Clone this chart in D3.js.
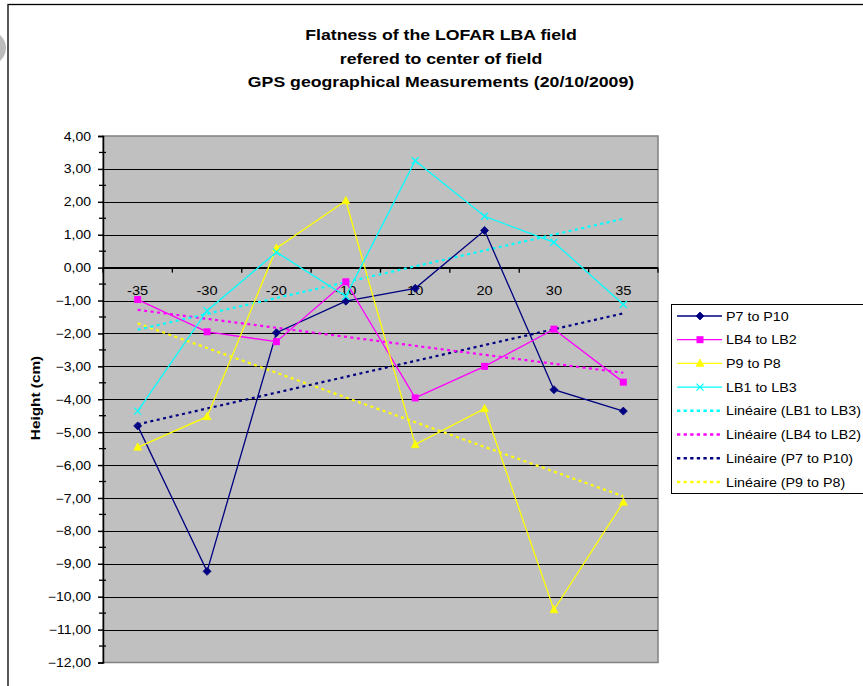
<!DOCTYPE html>
<html>
<head>
<meta charset="utf-8">
<script src="https://cdn.jsdelivr.net/npm/d3@7"></script>
<style>
  html, body { margin: 0; padding: 0; background: #fff; }
  svg { display: block; }
  text { font-family: "Liberation Sans", Arial, sans-serif; }
</style>
</head>
<body>
<script>
// Measurement positions along the field (category axis)
const categories = ["-35", "-30", "-20", "-10", "10", "20", "30", "35"];

// Height relative to field centre, in cm
const p7ToP10  = [-4.81, -9.23, -1.98, -1.02, -0.63, 1.13, -3.71, -4.36];
const lb4ToLb2 = [-0.97, -1.95, -2.25, -0.43, -3.96, -3.00, -1.87, -3.48];
const p9ToP8   = [-5.46, -4.53, 0.59, 2.03, -5.38, -4.29, -10.40, -7.13];
const lb1ToLb3 = [-4.36, -1.31, 0.47, -0.87, 3.25, 1.56, 0.77, -1.12];

const yTicks = d3.range(-12, 5, 1);
const titleLines = [
  "Flatness of the LOFAR LBA field",
  "refered to center of field",
  "GPS geographical Measurements (20/10/2009)"
];

const series = [
  { name: "P7 to P10",  values: p7ToP10,  color: "#000080", marker: "diamond" },
  { name: "LB4 to LB2", values: lb4ToLb2, color: "#FF00FF", marker: "square" },
  { name: "P9 to P8",   values: p9ToP8,   color: "#FFFF00", marker: "triangle" },
  { name: "LB1 to LB3", values: lb1ToLb3, color: "#00FFFF", marker: "cross" }
];
// Linear trend entries, in legend order
const trendOrder = ["LB1 to LB3", "LB4 to LB2", "P7 to P10", "P9 to P8"];

const W = 863, H = 686;
const plot = { left: 103, right: 658, top: 136, bottom: 662.5 };
const SX = 1.17; // horizontal stretch of the chart's lettering

const svg = d3.select("body").append("svg").attr("width", W).attr("height", H);
svg.append("rect").attr("width", W).attr("height", H).attr("fill", "#fff");

// small grey disc peeking at the left edge
svg.append("circle").attr("cx", -11).attr("cy", 48).attr("r", 17).attr("fill", "#bcbcbc");

// chart frame
svg.append("rect").attr("x", 8).attr("y", 4.5).attr("width", 1000).attr("height", 1000)
  .attr("fill", "#fff").attr("stroke", "#000").attr("stroke-width", 1.3);

function stretched(g, x, y, str, opts) {
  const t = g.append("text")
    .attr("transform", `translate(${x},${y}) scale(${opts.sx || SX},1)`)
    .attr("font-size", opts.size)
    .attr("text-anchor", opts.anchor || "start")
    .attr("fill", "#000")
    .text(str);
  if (opts.bold) t.attr("font-weight", "bold");
  return t;
}

// title
titleLines.forEach((s, i) => {
  stretched(svg, 441, 40 + i * 23.5, s, { size: 15, bold: true, anchor: "middle", sx: 1.18 });
});

const x = d3.scaleBand().domain(categories).range([plot.left, plot.right]).padding(0);
const cx = c => x(c) + x.bandwidth() / 2;
const y = d3.scaleLinear().domain([-12, 4]).range([plot.bottom, plot.top]);

// plot background
svg.append("rect")
  .attr("x", plot.left).attr("y", plot.top)
  .attr("width", plot.right - plot.left).attr("height", plot.bottom - plot.top)
  .attr("fill", "#C0C0C0").attr("stroke", "#808080").attr("stroke-width", 1.5);

// horizontal gridlines
svg.append("g").selectAll("line").data(yTicks.filter(v => v > -12 && v < 4)).join("line")
  .attr("x1", plot.left).attr("x2", plot.right)
  .attr("y1", d => Math.round(y(d)) + 0.5).attr("y2", d => Math.round(y(d)) + 0.5)
  .attr("stroke", "#000").attr("stroke-width", 1);

// value axis with major and minor ticks
const yAxis = svg.append("g").attr("transform", `translate(${plot.left},0)`)
  .call(d3.axisLeft(y).tickValues(yTicks).tickSize(5).tickPadding(6)
    .tickFormat(d => d3.format(".2f")(d).replace(".", ",")));
yAxis.select(".domain").attr("stroke", "#000").attr("stroke-width", 1.5);
yAxis.selectAll(".tick line").attr("stroke", "#000").attr("stroke-width", 1.5);
yAxis.selectAll(".tick text").each(function() {
  d3.select(this)
    .attr("font-size", 12).attr("font-family", "Liberation Sans, Arial, sans-serif")
    .attr("fill", "#000")
    .attr("transform", `translate(-12,0) scale(${SX},1)`).attr("x", 0).attr("dy", "0.34em");
});
svg.append("g").selectAll("line").data(d3.range(-11.5, 4, 1)).join("line")
  .attr("x1", plot.left - 4).attr("x2", plot.left + 3)
  .attr("y1", d => y(d)).attr("y2", d => y(d))
  .attr("stroke", "#000").attr("stroke-width", 1.3);

// category axis crossing at zero
const xAxis = svg.append("g").attr("transform", `translate(0,${y(0)})`);
xAxis.append("line").attr("x1", plot.left).attr("x2", plot.right)
  .attr("stroke", "#000").attr("stroke-width", 1.5);
const bounds = categories.map(c => x(c)).concat([plot.right]);
xAxis.selectAll(".ctick").data(bounds).join("line").attr("class", "ctick")
  .attr("x1", d => d).attr("x2", d => d).attr("y1", 0).attr("y2", 5)
  .attr("stroke", "#000").attr("stroke-width", 1.3);
categories.forEach(c => {
  stretched(xAxis, cx(c), 27, c, { size: 12.5, anchor: "middle" });
});

// y-axis title
svg.append("text")
  .attr("transform", `translate(40,398) rotate(-90) scale(1.18,1)`)
  .attr("text-anchor", "middle").attr("font-size", 13).attr("font-weight", "bold")
  .text("Height (cm)");

// least-squares trend over the category index
function trend(values) {
  const n = values.length;
  const xs = d3.range(1, n + 1);
  const mx = d3.mean(xs), my = d3.mean(values);
  const b = d3.sum(xs, (xi, i) => (xi - mx) * (values[i] - my)) / d3.sum(xs, xi => (xi - mx) ** 2);
  const a = my - b * mx;
  return [a + b * 1, a + b * n];
}

const byName = Object.fromEntries(series.map(s => [s.name, s]));
const trendG = svg.append("g");
trendOrder.slice().reverse().forEach(name => {
  const s = byName[name];
  const [v0, v1] = trend(s.values);
  trendG.append("line")
    .attr("x1", cx(categories[0])).attr("x2", cx(categories[categories.length - 1]))
    .attr("y1", y(v0)).attr("y2", y(v1))
    .attr("stroke", s.color).attr("stroke-width", 2.2).attr("stroke-dasharray", "3,3.5");
});

function drawMarker(g, type, px, py, color) {
  if (type === "diamond") {
    g.append("path").attr("d", `M${px},${py - 4}L${px + 4},${py}L${px},${py + 4}L${px - 4},${py}Z`)
      .attr("fill", color).attr("stroke", color).attr("stroke-width", 0.8);
  } else if (type === "square") {
    g.append("rect").attr("x", px - 3.5).attr("y", py - 3.5).attr("width", 7).attr("height", 7)
      .attr("fill", color);
  } else if (type === "triangle") {
    g.append("path").attr("d", `M${px},${py - 4.5}L${px + 4},${py + 3}L${px - 4},${py + 3}Z`)
      .attr("fill", color).attr("stroke", color).attr("stroke-width", 0.6);
  } else if (type === "cross") {
    g.append("path").attr("d", `M${px - 3.5},${py - 3.5}L${px + 3.5},${py + 3.5}M${px + 3.5},${py - 3.5}L${px - 3.5},${py + 3.5}`)
      .attr("stroke", color).attr("stroke-width", 1.3);
  }
}

const line = d3.line().x((d, i) => cx(categories[i])).y(d => y(d));
series.forEach(s => {
  const g = svg.append("g");
  g.append("path").attr("d", line(s.values)).attr("fill", "none")
    .attr("stroke", s.color).attr("stroke-width", 1.3);
  s.values.forEach((v, i) => drawMarker(g, s.marker, cx(categories[i]), y(v), s.color));
});

// legend
const legend = svg.append("g");
legend.append("rect").attr("x", 671.5).attr("y", 304.5).attr("width", 300).attr("height", 189)
  .attr("fill", "#fff").attr("stroke", "#000").attr("stroke-width", 1);
const entries = series.map(s => ({ label: s.name, s, dotted: false }))
  .concat(trendOrder.map(n => ({ label: `Linéaire (${n})`, s: byName[n], dotted: true })));
entries.forEach((e, i) => {
  const ly = 316 + i * 23.7;
  const ln = legend.append("line").attr("x1", 677).attr("x2", 722).attr("y1", ly).attr("y2", ly)
    .attr("stroke", e.s.color);
  if (e.dotted) ln.attr("stroke-width", 2.5).attr("stroke-dasharray", "3.3,3.3");
  else {
    ln.attr("stroke-width", 1.3);
    drawMarker(legend, e.s.marker, 700, ly, e.s.color);
  }
  stretched(legend, 726, ly + 4.6, e.label, { size: 13, sx: 1.1 });
});
</script>
</body>
</html>
